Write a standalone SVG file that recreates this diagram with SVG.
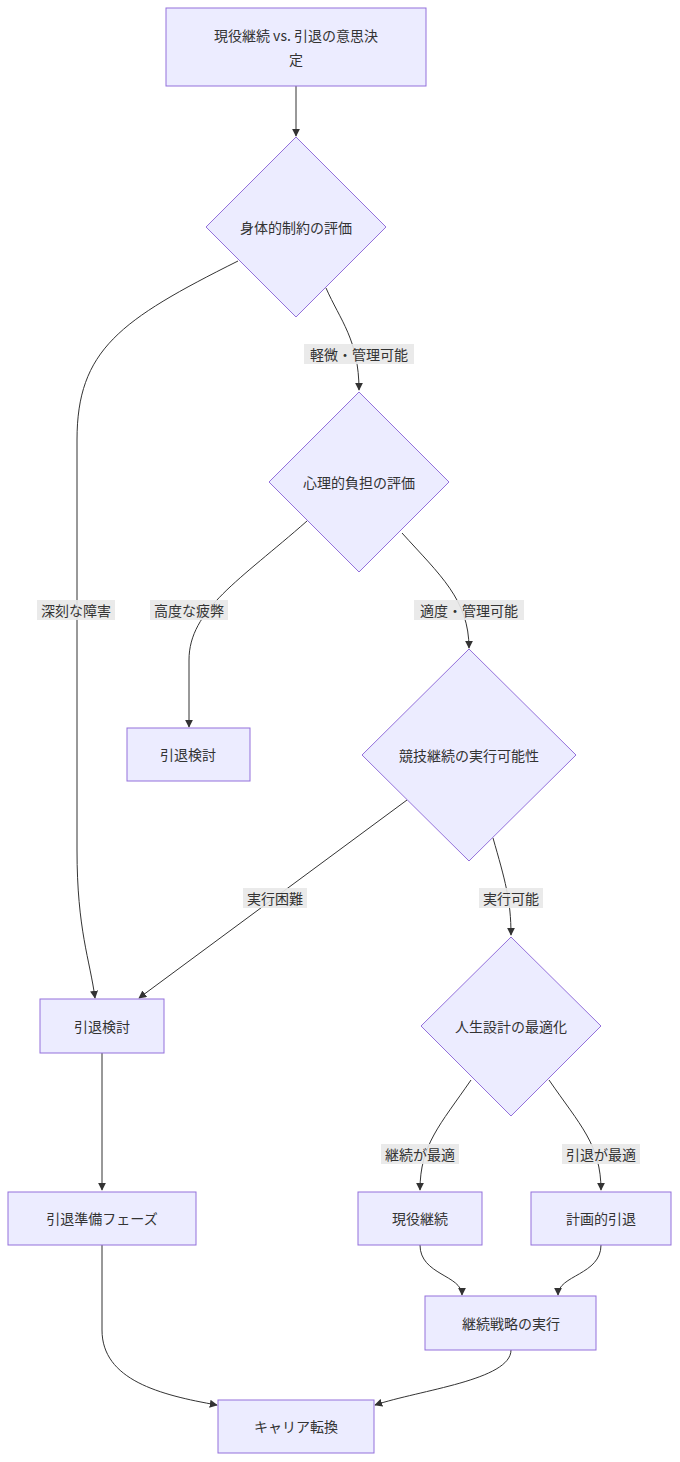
<svg xmlns="http://www.w3.org/2000/svg" width="680" height="1462" viewBox="0 0 680 1462">
<defs>
<marker id="ah" viewBox="0 0 10 10" refX="9" refY="5" markerWidth="8" markerHeight="8" orient="auto"><path d="M0,0L10,5L0,10z" fill="#333"/></marker>
<style>
.n{fill:#ECECFF;stroke:#9370DB;stroke-width:1}
.t{font-family:"Noto Sans CJK JP","Liberation Sans",sans-serif;font-size:14px;fill:#333;text-anchor:middle;dominant-baseline:central}
.e{fill:none;stroke:#333;stroke-width:1;marker-end:url(#ah)}
.lb{fill:#e8e8e8;opacity:0.9}
</style>
</defs>
<rect width="680" height="1462" fill="#fff"/>
<g id="edges">
<path class="e" d="M296,86V136"/>
<path class="e" d="M326,288C340,320 359,340 359,390"/>
<path class="e" d="M238,261C120,320 77,350 77,440V850C77,930 90,960 95,998"/>
<path class="e" d="M307,521C240,580 189,610 189,660V727"/>
<path class="e" d="M402,533C440,575 469,600 469,648"/>
<path class="e" d="M407,800L139,998"/>
<path class="e" d="M493,838C505,880 511,900 511,935"/>
<path class="e" d="M471,1080C440,1125 420,1145 420,1190"/>
<path class="e" d="M549,1080C580,1125 601,1145 601,1190"/>
<path class="e" d="M420,1245C420,1275 462,1275 462,1295"/>
<path class="e" d="M601,1245C601,1275 558,1275 558,1295"/>
<path class="e" d="M102,1053V1190"/>
<path class="e" d="M102,1245V1330C102,1380 160,1395 217,1405"/>
<path class="e" d="M511,1350C511,1380 420,1390 375,1405"/>
<rect class="lb" x="304" y="344" width="110" height="20"/><text class="t" x="359" y="354">軽微・管理可能</text>
<rect class="lb" x="37" y="600" width="78" height="20"/><text class="t" x="76" y="610">深刻な障害</text>
<rect class="lb" x="150" y="600" width="78" height="20"/><text class="t" x="189" y="610">高度な疲弊</text>
<rect class="lb" x="414" y="600" width="110" height="20"/><text class="t" x="469" y="610">適度・管理可能</text>
<rect class="lb" x="243" y="888" width="64" height="20"/><text class="t" x="275" y="898">実行困難</text>
<rect class="lb" x="479" y="888" width="64" height="20"/><text class="t" x="511" y="898">実行可能</text>
<rect class="lb" x="381" y="1144" width="78" height="20"/><text class="t" x="420" y="1154">継続が最適</text>
<rect class="lb" x="562" y="1144" width="78" height="20"/><text class="t" x="601" y="1154">引退が最適</text>
</g>
<g id="n1"><rect class="n" x="166" y="8" width="260" height="78"/><text class="t" x="296" y="35">現役継続 vs. 引退の意思決</text><text class="t" x="296" y="59">定</text></g>
<g id="d1"><polygon class="n" points="296,137 386,227 296,317 206,227"/><text class="t" x="296" y="227">身体的制約の評価</text></g>
<g id="d2"><polygon class="n" points="359,392 449,482 359,572 269,482"/><text class="t" x="359" y="482">心理的負担の評価</text></g>
<g id="d3"><polygon class="n" points="469,649 576,755 469,861 362,755"/><text class="t" x="469" y="755">競技継続の実行可能性</text></g>
<g id="d4"><polygon class="n" points="511,937 601,1026 511,1116 421,1026"/><text class="t" x="511" y="1026">人生設計の最適化</text></g>
<g id="r1"><rect class="n" x="127" y="728" width="123" height="53"/><text class="t" x="188" y="754">引退検討</text></g>
<g id="r2"><rect class="n" x="40" y="999" width="124" height="54"/><text class="t" x="102" y="1026">引退検討</text></g>
<g id="r3"><rect class="n" x="8" y="1192" width="188" height="53"/><text class="t" x="102" y="1218">引退準備フェーズ</text></g>
<g id="r4"><rect class="n" x="358" y="1192" width="124" height="53"/><text class="t" x="420" y="1218">現役継続</text></g>
<g id="r5"><rect class="n" x="531" y="1192" width="140" height="53"/><text class="t" x="601" y="1218">計画的引退</text></g>
<g id="r6"><rect class="n" x="425" y="1296" width="171" height="54"/><text class="t" x="511" y="1323">継続戦略の実行</text></g>
<g id="r7"><rect class="n" x="218" y="1400" width="156" height="53"/><text class="t" x="296" y="1426">キャリア転換</text></g>
</svg>
